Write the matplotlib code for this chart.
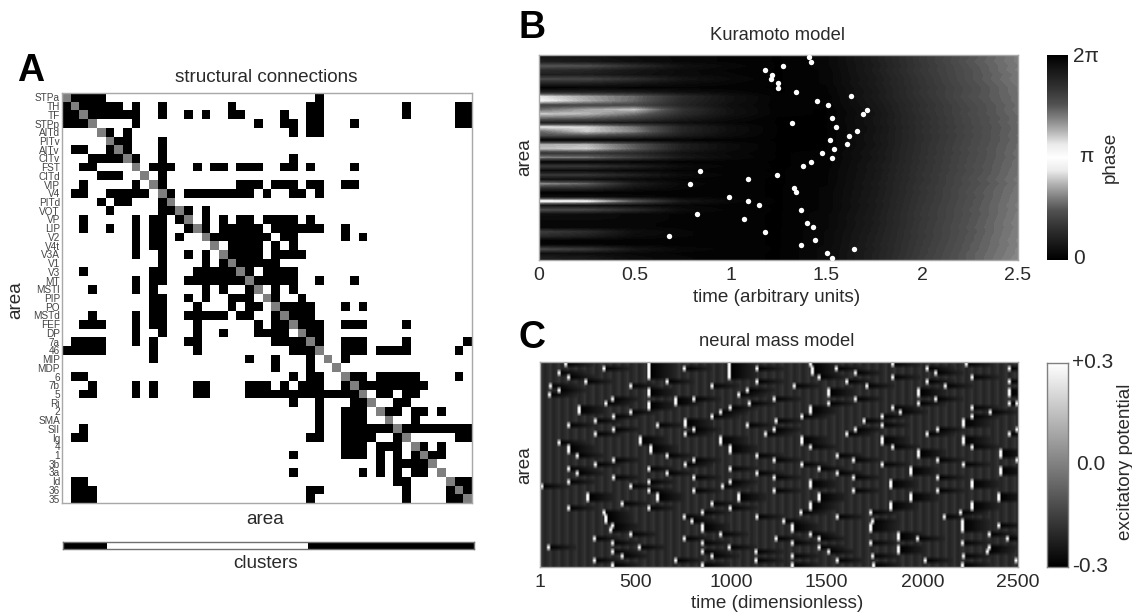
import numpy as np
import matplotlib
matplotlib.use('Agg')
import matplotlib.pyplot as plt
from matplotlib.colors import LinearSegmentedColormap

plt.rcParams['font.family'] = ['Liberation Sans', 'DejaVu Sans']

W, H = 1132, 612
TXT = '#2a2a2a'

area_labels = ['STPa', 'TH', 'TF', 'STPp', 'AITd', 'PITv', 'AITv', 'CITv', 'FST', 'CITd', 'VIP', 'V4',
               'PITd', 'VOT', 'VP', 'LIP', 'V2', 'V4t', 'V3A', 'V1', 'V3', 'MT', 'MSTl', 'PIP', 'PO',
               'MSTd', 'FEF', 'DP', '7a', '46', 'MIP', 'MDP', '6', '7b', '5', 'Ri', '2', 'SMA', 'SII',
               'Ig', '4', '1', '3b', '3a', 'Id', '36', '35']

# connected columns per row, (a, b) is an inclusive run of columns
conn_rows = [
    [(1, 4), 29],
    [0, (2, 6), 8, 11, 19, (28, 29), 39, (45, 46)],
    [(0, 1), (3, 8), 11, 14, 16, (19, 20), 25, (28, 29), 39, (45, 46)],
    [(0, 2), 8, 22, (25, 26), (28, 29), 33, (45, 46)],
    [5, 7, 26, (28, 29)],
    [(6, 7), 11],
    [(1, 2), 5, 7, 11],
    [(3, 6), 8, 11, 26],
    [(2, 3), (10, 12), 15, (17, 18), (20, 22), (25, 26), 28, 33],
    [(4, 6), 11],
    [2, 8, 11, (20, 22), (24, 26), (28, 29), (32, 33)],
    [(1, 2), (5, 9), 12, (14, 21), 23, 26, 27, 29],
    [4, (6, 7), 11],
    [5, (11, 12), 14, 16],
    [2, 8, (10, 11), 13, 16, 18, (20, 21), (23, 26), 28],
    [2, 5, 8, (10, 11), 14, 16, (18, 22), (24, 29), 32],
    [8, (10, 11), 13, (17, 23), (25, 26), 32, 34],
    [8, (10, 11), (19, 22), 24, 26],
    [8, 11, 14, 16, (19, 22), (24, 27)],
    [11, 16, 18, (20, 24)],
    [2, (10, 11), (15, 19), 21, (23, 26)],
    [8, (10, 11), (14, 20), (22, 26), 29, 33],
    [3, 8, 10, 16, 18, 21, 24, 26],
    [(10, 11), 14, 16, (19, 21), 24, 27],
    [(10, 11), 15, 19, (21, 22), (25, 28), 32, 34],
    [3, 8, (10, 11), (14, 18), (20, 21), 24, (26, 28)],
    [(2, 4), 8, (10, 11), 15, 22, (24, 25), (27, 29), (32, 34), 39],
    [8, 11, 15, 18, (22, 25), (28, 29)],
    [(1, 4), 8, 10, (14, 15), (24, 27), 29, (32, 34), 39, 46],
    [(0, 4), 10, 15, (26, 28), (32, 34), (36, 39), 45],
    [10, 21, 24, 28, 32],
    [24, 28],
    [(1, 2), 26, (28, 29), (33, 34), (36, 40), 45],
    [3, 8, 10, (15, 16), (21, 23), 25, (27, 29), 32, (34, 41)],
    [(2, 3), 8, 10, (15, 16), (21, 33), (36, 37), (39, 40)],
    [26, 29, (33, 34), (38, 39)],
    [29, (32, 34), (37, 38), (40, 41), 43],
    [29, (32, 34), 40],
    [2, 29, (32, 37), (39, 46)],
    [(1, 2), (28, 29), (32, 35), 38, (45, 46)],
    [(32, 34), (36, 38), 41, 43],
    [26, (32, 34), 36, 38, 40, (42, 43)],
    [36, 38, (39, 41)],
    [26, 34, 36, 38, (40, 41)],
    [(1, 2), (38, 39), (45, 46)],
    [(1, 3), (28, 29), 39, 44, 46],
    [(1, 3), 28, 39, (44, 45)],
]
cluster_ids = [1] * 5 + [0] * 23 + [1] * 19

# Kuramoto model: angular distance of the phase from 0, in units of pi
phase_times = [0, 0.25, 0.5, 0.75, 1.0, 1.25, 1.5, 1.75, 2.0, 2.25, 2.5]
phase_table = [
    [.14, .13, .09, .06, .04, .02, .06, .19, .35, .48, .60],
    [.20, .16, .10, .06, .04, .02, .06, .19, .35, .49, .60],
    [.50, .48, .30, .12, .06, .02, .06, .18, .34, .48, .59],
    [.28, .24, .15, .08, .04, .02, .05, .19, .35, .47, .60],
    [.20, .19, .13, .08, .05, .02, .05, .18, .34, .47, .58],
    [.44, .43, .30, .14, .07, .02, .05, .17, .33, .47, .59],
    [.22, .21, .15, .08, .05, .02, .05, .18, .33, .46, .58],
    [.03, .04, .04, .04, .03, .02, .04, .17, .32, .45, .57],
    [.22, .22, .18, .10, .06, .02, .04, .16, .33, .45, .57],
    [.85, .70, .55, .28, .12, .03, .03, .17, .32, .46, .56],
    [.92, .72, .54, .26, .12, .03, .03, .16, .31, .45, .56],
    [.40, .42, .43, .24, .10, .03, .03, .15, .30, .44, .55],
    [.55, .70, .78, .32, .12, .03, .02, .14, .31, .43, .56],
    [.80, .75, .58, .28, .12, .03, .02, .13, .30, .44, .55],
    [.55, .52, .40, .20, .08, .02, .02, .14, .29, .43, .54],
    [.20, .20, .16, .10, .05, .02, .02, .14, .30, .43, .55],
    [.88, .82, .58, .24, .10, .02, .02, .13, .29, .42, .54],
    [.55, .80, .62, .24, .10, .02, .02, .13, .30, .43, .54],
    [.45, .46, .36, .18, .08, .02, .02, .14, .29, .42, .55],
    [.02, .03, .03, .03, .03, .02, .02, .14, .29, .43, .54],
    [.72, .74, .50, .20, .08, .02, .02, .13, .30, .43, .55],
    [.76, .80, .52, .20, .08, .02, .02, .14, .30, .44, .55],
    [.32, .34, .26, .12, .06, .02, .03, .15, .30, .43, .56],
    [.62, .58, .38, .16, .07, .02, .03, .14, .31, .44, .55],
    [.03, .04, .04, .03, .03, .02, .03, .15, .30, .44, .56],
    [.36, .35, .22, .08, .04, .02, .03, .16, .31, .45, .56],
    [.08, .08, .06, .04, .03, .02, .04, .15, .31, .44, .57],
    [.36, .35, .22, .08, .04, .02, .04, .16, .32, .45, .57],
    [.10, .10, .07, .04, .03, .02, .04, .16, .31, .46, .58],
    [.66, .54, .20, .06, .03, .02, .04, .17, .32, .45, .57],
    [.30, .28, .12, .05, .03, .02, .05, .16, .33, .46, .58],
    [.02, .03, .03, .03, .03, .02, .05, .17, .32, .47, .58],
    [.10, .09, .06, .04, .03, .02, .05, .17, .33, .46, .59],
    [1.0, .95, .52, .16, .06, .02, .05, .18, .33, .47, .59],
    [.14, .12, .08, .05, .03, .02, .05, .17, .34, .47, .60],
    [.46, .44, .28, .08, .04, .02, .05, .18, .34, .48, .59],
    [.10, .09, .06, .04, .03, .02, .06, .18, .35, .47, .60],
    [.08, .08, .06, .04, .03, .02, .06, .19, .34, .48, .60],
    [.05, .05, .05, .04, .03, .02, .06, .18, .35, .48, .61],
    [.05, .05, .05, .04, .03, .02, .06, .19, .35, .49, .60],
    [.38, .28, .10, .05, .03, .02, .07, .19, .36, .48, .61],
    [.28, .20, .08, .05, .03, .02, .07, .20, .35, .49, .61],
    [.03, .03, .03, .03, .03, .02, .07, .20, .36, .49, .62],
    [.05, .05, .04, .03, .03, .02, .07, .21, .36, .50, .61],
    [.46, .36, .15, .06, .04, .02, .08, .20, .37, .50, .62],
    [.10, .09, .06, .04, .03, .02, .08, .21, .37, .51, .62],
    [.20, .16, .08, .05, .03, .02, .08, .21, .38, .51, .63],
]
# time of the phase crossing marked by a white dot, one per area
cross_times = [1.41, 1.42, 1.275, 1.18, 1.215, 1.21, 1.245, 1.245, 1.34, 1.63, 1.45, 1.51, 1.71, 1.69,
               1.53, 1.32, 1.55, 1.66, 1.62, 1.52, 1.61, 1.54, 1.475, 1.53, 1.42, 1.38, 0.84, 1.24,
               1.09, 0.79, 1.33, 1.34, 0.99, 1.09, 1.15, 1.37, 0.825, 1.07, 1.40, 1.43, 1.18, 0.68,
               1.44, 1.37, 1.645, 1.505, 1.53]
phase_nodes = [0, .16, .32, .48, .61, .74, .87, 1]
phase_grays = [0, .10, .20, .32, .50, .70, .92, 1]

# neural mass model: times of the potential peaks for each area
spike_times = [
    [132, 568, 987, 1414, 1841, 2230],
    [333, 568, 751, 987, 1135, 1422, 1549, 2024, 2451],
    [98, 568, 987, 1422, 1649, 2067],
    [150, 568, 987, 1457, 1841, 2259],
    [237, 664, 1135, 1605, 2024, 2451],
    [54, 472, 899, 1326, 1710, 2119],
    [98, 568, 1082, 1509, 1980, 2451],
    [50, 568, 1039, 1509, 1980, 2451],
    [376, 708, 804, 1222, 1649, 2067],
    [342, 568, 708, 1091, 1509, 1980, 2451, 2494],
    [202, 568, 995, 1414, 1841, 2259],
    [202, 472, 943, 1414, 1884, 2355],
    [385, 899, 1370, 1788, 2259],
    [289, 760, 1231, 1692, 2215],
    [150, 612, 760, 1082, 1788, 2215],
    [385, 804, 1222, 1649, 2076, 2494],
    [289, 760, 1178, 1605, 2024, 2451],
    [525, 943, 1370, 1788, 2215],
    [98, 525, 943, 1370, 1788, 2215],
    [150, 577, 995, 1414, 1841, 2259],
    [150, 577, 995, 1980, 2407],
    [193, 664, 1135, 1553, 1980, 2407],
    [385, 804, 1222, 1640, 2076, 2494],
    [289, 760, 1370, 1788, 2215],
    [150, 568, 995, 1457, 1936, 2407],
    [193, 664, 1135, 1553, 1936, 2407],
    [385, 804, 1222, 1640, 2076],
    [150, 568, 995, 1414, 1832, 2259],
    [10, 472, 952, 1414, 1832, 2259],
    [568, 804, 1222, 1640, 2076],
    [246, 612, 1039, 1457, 1936, 2398],
    [246, 612, 1039, 1457, 1936, 2398],
    [429, 899, 1414, 1832, 2259],
    [150, 568, 995, 1414, 1832, 2259],
    [333, 847, 1361, 1727, 2200],
    [342, 751, 1135, 1553, 2111],
    [342, 795, 1274, 1736, 2207],
    [376, 847, 1318, 1727, 2207, 2398],
    [368, 847, 1318, 1727, 2207],
    [472, 943, 1414, 1875, 2346],
    [281, 751, 1231, 1457, 1875, 1971, 2442],
    [376, 847, 1318, 1727, 2207],
    [45, 516, 987, 1457, 1875, 2346],
    [376, 847, 1126, 1509, 1875, 2337],
    [429, 899, 1318, 1736, 2215],
    [281, 708, 1126, 1553, 2015, 2486],
    [376, 847, 1318, 1745, 2207],
]
# one ripple of the resting potential and the dip after a peak, 5 time units per step
ripple_levels = [-.19, -.175, -.185, -.20, -.21, -.215, -.21, -.20, -.195]
after_peak = [-.30, -.30, -.295, -.29, -.29, -.285, -.28, -.28, -.275, -.27, -.27, -.265, -.26, -.26,
              -.255, -.25, -.25, -.245, -.24, -.24, -.235, -.23, -.23, -.225, -.22, -.22, -.215, -.21]
peak_shape = [.12, .30, .30, .05]


def axes_px(left, top, right, bottom):
    return fig.add_axes([left / W, 1 - bottom / H, (right - left) / W, (bottom - top) / H])


def text_px(x, y, s, **kw):
    kw.setdefault('color', TXT)
    kw.setdefault('ha', 'center')
    kw.setdefault('va', 'center')
    fig.text(x / W, 1 - y / H, s, **kw)


def border(ax, color='#a8a8a8'):
    for sp in ax.spines.values():
        sp.set_color(color)
        sp.set_linewidth(1)


fig = plt.figure(figsize=(W / 100, H / 100), dpi=100, facecolor='white')

# panel A
n = len(area_labels)
conn = np.zeros((n, n))
for i, row in enumerate(conn_rows):
    for c in row:
        if isinstance(c, tuple):
            conn[i, c[0]:c[1] + 1] = 1
        else:
            conn[i, c] = 1
conn[np.arange(n), np.arange(n)] = 0.5

ax = axes_px(62, 93, 472, 503)
ax.imshow(conn, cmap='gray_r', vmin=0, vmax=1, aspect='auto', interpolation='nearest')
ax.set_xticks([])
ax.set_yticks(np.arange(n))
ax.set_yticklabels(area_labels, fontsize=7.2, color='#444444')
ax.tick_params(axis='y', length=0, pad=1.5)
border(ax)

ax = axes_px(63, 542, 474, 549)
ax.imshow([cluster_ids], cmap='gray_r', vmin=0, vmax=1, aspect='auto', interpolation='nearest')
ax.set_xticks([])
ax.set_yticks([])
border(ax, '#707070')

text_px(266, 77, 'structural connections', fontsize=13.6)
text_px(265, 519, 'area', fontsize=13.6)
text_px(266, 563, 'clusters', fontsize=13.6)
text_px(16, 300, 'area', fontsize=13.6, rotation=90)
text_px(31, 71, 'A', fontsize=27, fontweight='bold', color='black')

# panel B
phase_cmap = LinearSegmentedColormap.from_list(
    'phase', [(d, (g, g, g)) for d, g in zip(phase_nodes, phase_grays)], N=44)
step = phase_times[1] - phase_times[0]
ax = axes_px(539, 55, 1018, 260)
ax.imshow(np.array(phase_table), cmap=phase_cmap, vmin=0, vmax=1, aspect='auto',
          interpolation='bilinear', interpolation_stage='data',
          extent=[-step / 2, phase_times[-1] + step / 2, n, 0])
ax.scatter(cross_times, np.arange(n) + 0.5, s=15, color='white', linewidths=0, zorder=3)
ax.set_xlim(0, 2.5)
ax.set_ylim(n, 0)
ax.set_yticks([])
ax.set_xticks([0, 0.5, 1, 1.5, 2, 2.5])
ax.set_xticklabels(['0', '0.5', '1', '1.5', '2', '2.5'], fontsize=14, color=TXT)
ax.tick_params(axis='x', length=0, pad=5)
border(ax)

text_px(777, 35, 'Kuramoto model', fontsize=13.2)
text_px(777, 297, 'time (arbitrary units)', fontsize=13.6)
text_px(525, 157, 'area', fontsize=13.6, rotation=90)
text_px(532, 28, 'B', fontsize=27, fontweight='bold', color='black')

cax = axes_px(1047, 55, 1068, 260)
phase_axis = np.linspace(2, 0, 256)
cax.imshow((1 - np.abs(1 - phase_axis))[:, None], cmap=LinearSegmentedColormap.from_list(
    'phase_fine', [(d, (g, g, g)) for d, g in zip(phase_nodes, phase_grays)]),
    vmin=0, vmax=1, aspect='auto')
cax.axis('off')
text_px(1073, 57, '2π', fontsize=15, ha='left')
text_px(1079, 157, 'π', fontsize=15, ha='left')
text_px(1073, 258, '0', fontsize=15, ha='left')
text_px(1110, 157, 'phase', fontsize=13.6, rotation=90)

# panel C
dt = 5
t_grid = np.arange(1, 2501, dt)
mass = np.resize(ripple_levels, len(t_grid))
mass = np.tile(mass, (n, 1))
for i, times in enumerate(spike_times):
    for t in times:
        k = int((t - 1) / dt)
        end = min(k + len(after_peak) + 2, len(t_grid))
        mass[i, k + 2:end] = np.minimum(mass[i, k + 2:end], after_peak[:end - k - 2])
    for t in times:
        k = int((t - 1) / dt)
        for j, v in enumerate(peak_shape):
            if k - 1 + j < len(t_grid):
                mass[i, max(k - 1 + j, 0)] = v

ax = axes_px(540, 362, 1018, 567)
ax.imshow(mass, cmap='gray', vmin=-0.3, vmax=0.3, aspect='auto', interpolation='bilinear',
          extent=[1, 2500, n, 0])
ax.set_xlim(1, 2500)
ax.set_yticks([])
ax.set_xticks([1, 500, 1000, 1500, 2000, 2500])
ax.set_xticklabels(['1', '500', '1000', '1500', '2000', '2500'], fontsize=14, color=TXT)
ax.tick_params(axis='x', length=0, pad=5)
border(ax)

text_px(777, 342, 'neural mass model', fontsize=13.2)
text_px(777, 603, 'time (dimensionless)', fontsize=13.6)
text_px(525, 465, 'area', fontsize=13.6, rotation=90)
text_px(532, 338, 'C', fontsize=27, fontweight='bold', color='black')

cax = axes_px(1047, 363, 1068, 567)
cax.imshow(np.linspace(0.3, -0.3, 256)[:, None], cmap='gray', vmin=-0.3, vmax=0.3, aspect='auto')
cax.set_xticks([])
cax.set_yticks([])
border(cax, '#808080')
text_px(1072, 363, '+0.3', fontsize=15, ha='left')
text_px(1076, 465, '0.0', fontsize=15, ha='left')
text_px(1072, 566, '-0.3', fontsize=15, ha='left')
text_px(1125, 462, 'excitatory potential', fontsize=13.6, rotation=90)

fig.savefig('out.png', dpi=100)
